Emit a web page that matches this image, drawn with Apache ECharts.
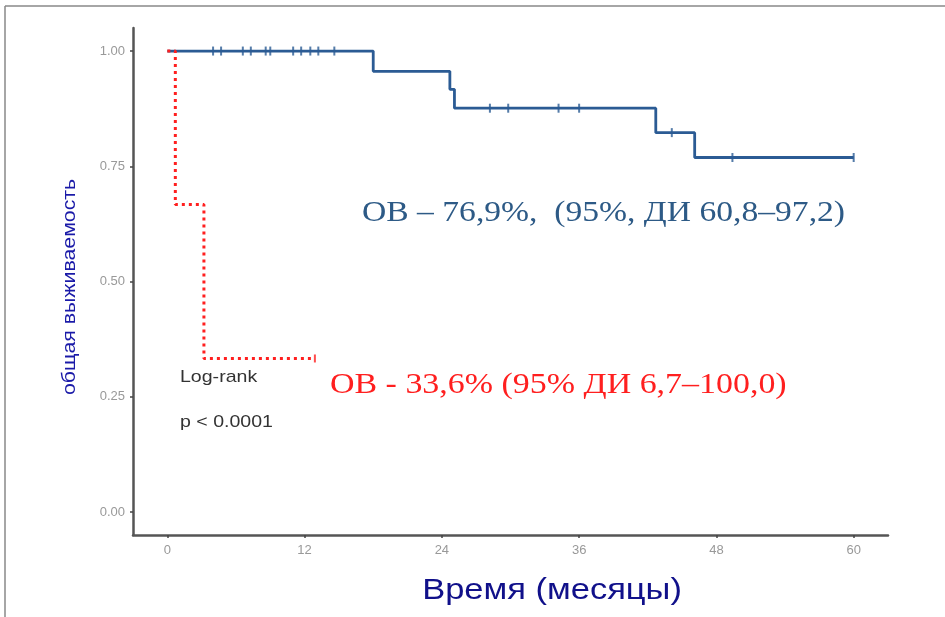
<!DOCTYPE html>
<html>
<head>
<meta charset="utf-8">
<script src="https://cdn.jsdelivr.net/npm/echarts@6/dist/echarts.min.js"></script>
<style>
  html,body{margin:0;padding:0;background:#fff;}
  #chart{width:945px;height:617px;}
</style>
</head>
<body>
<div id="chart"></div>
<script>
  // time (months) / survival steps
  var monthTicks = [0, 12, 24, 36, 48, 60];
  var survTicks = [0, 0.25, 0.5, 0.75, 1];

  var blueSteps = [[0, 1], [18, 0.956], [24.7, 0.917], [25.1, 0.876], [42.7, 0.823], [46.1, 0.769], [60, 0.769]];
  var blueCensor = [[4.0, 1], [4.7, 1], [6.6, 1], [7.3, 1], [8.6, 1], [9.0, 1], [11.0, 1], [11.7, 1], [12.5, 1], [13.2, 1], [14.6, 1],
    [28.2, 0.876], [29.8, 0.876], [34.2, 0.876], [36.0, 0.876], [44.1, 0.823], [49.4, 0.769], [60, 0.769]];

  var redSteps = [[0, 1], [0.7, 0.667], [3.2, 0.333], [12.9, 0.333]];
  var redCensor = [[12.9, 0.333]];

  var blueLabel = 'ОВ – 76,9%,  (95%, ДИ 60,8–97,2)';
  var redLabel = 'ОВ - 33,6% (95% ДИ 6,7–100,0)';

  var blue = '#2b5b94';
  var red = '#ff1f1f';

  var chart = echarts.init(document.getElementById('chart'));
  var option = {
    animation: false,
    grid: {left: 133, right: 57, top: 28, bottom: 82},
    xAxis: {
      type: 'value',
      min: -3,
      max: 63,
      splitLine: {show: false},
      axisLine: {onZero: false, lineStyle: {color: '#555', width: 2.5}},
      axisTick: {customValues: monthTicks, length: 3, lineStyle: {color: '#444', width: 1.5}},
      axisLabel: {customValues: monthTicks, color: '#999', fontSize: 13, margin: 9, fontFamily: 'Liberation Sans'}
    },
    yAxis: {
      type: 'value',
      min: -0.05,
      max: 1.05,
      splitLine: {show: false},
      axisLine: {show: true, onZero: false, lineStyle: {color: '#555', width: 2.5}},
      axisTick: {show: true, customValues: survTicks, length: 3, lineStyle: {color: '#444', width: 1.5}},
      axisLabel: {
        customValues: survTicks, color: '#999', fontSize: 13, margin: 8, fontFamily: 'Liberation Sans',
        formatter: function (v) { return v.toFixed(2); }
      }
    },
    series: [
      {
        type: 'line', step: 'end', data: blueSteps, symbol: 'none',
        lineStyle: {color: blue, width: 2.8}
      },
      {
        type: 'line', step: 'end', data: redSteps, symbol: 'none',
        lineStyle: {color: red, width: 3, type: [3, 4]}
      },
      {
        type: 'scatter', data: blueCensor, symbol: 'rect', symbolSize: [2, 9],
        itemStyle: {color: blue, opacity: 0.8}
      },
      {
        type: 'scatter', data: redCensor, symbol: 'rect', symbolSize: [2, 8],
        itemStyle: {color: red}
      }
    ],
    graphic: [
      {type: 'line', shape: {x1: 5, y1: 6, x2: 945, y2: 6}, style: {stroke: '#888', lineWidth: 1.5}},
      {type: 'line', shape: {x1: 5, y1: 6, x2: 5, y2: 617}, style: {stroke: '#888', lineWidth: 1.5}},
      {
        type: 'text', x: 362, y: 213, scaleX: 1.12,
        style: {text: blueLabel, fill: '#2d5a86', font: '30px "Liberation Serif"', textVerticalAlign: 'middle'}
      },
      {
        type: 'text', x: 330, y: 385, scaleX: 1.17,
        style: {text: redLabel, fill: red, font: '29px "Liberation Serif"', textVerticalAlign: 'middle'}
      },
      {
        type: 'text', x: 180, y: 377, scaleX: 1.15,
        style: {text: 'Log-rank', fill: '#333', font: '17px "Liberation Sans"', textVerticalAlign: 'middle'}
      },
      {
        type: 'text', x: 180, y: 422, scaleX: 1.15,
        style: {text: 'p < 0.0001', fill: '#333', font: '17px "Liberation Sans"', textVerticalAlign: 'middle'}
      },
      {
        type: 'text', x: 70, y: 287, rotation: Math.PI / 2, scaleX: 1.12,
        style: {text: 'общая выживаемость', fill: '#1a1aa8', font: '19px "Liberation Sans"', textAlign: 'center', textVerticalAlign: 'middle'}
      },
      {
        type: 'text', x: 552, y: 591, scaleX: 1.15,
        style: {text: 'Время (месяцы)', fill: '#10108a', font: '30px "Liberation Sans"', textAlign: 'center', textVerticalAlign: 'middle'}
      }
    ]
  };
  chart.setOption(option);
</script>
</body>
</html>
